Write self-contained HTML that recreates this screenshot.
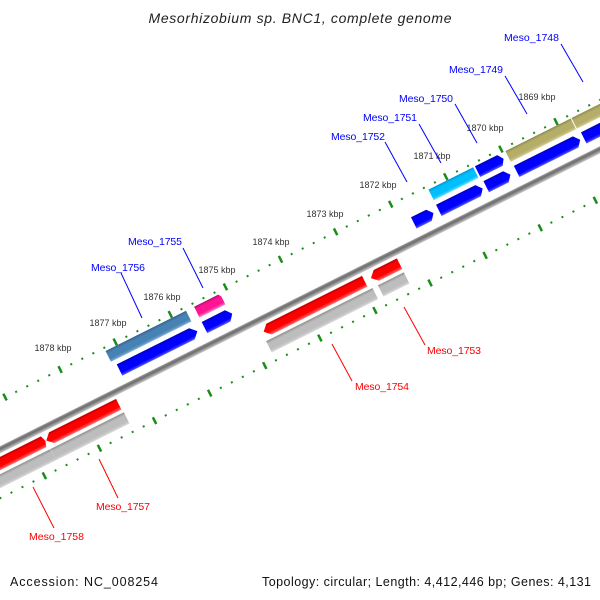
<!DOCTYPE html>
<html><head><meta charset="utf-8"><style>
html,body{margin:0;padding:0;background:#fff;width:600px;height:600px;overflow:hidden;}
svg{display:block;overflow:hidden;}
text{font-family:"Liberation Sans",sans-serif;}
</style></head><body>
<svg width="600" height="600" viewBox="0 0 600 600" xmlns="http://www.w3.org/2000/svg">
<defs>
<clipPath id="clipAll"><rect x="0" y="0" width="600" height="600"/></clipPath>
<linearGradient id="gB" x1="0" y1="0" x2="0" y2="1"><stop offset="0" stop-color="#0000c0"/><stop offset="0.25" stop-color="#0000ff"/><stop offset="0.75" stop-color="#0000ff"/><stop offset="1" stop-color="#5a5aff"/></linearGradient>
<linearGradient id="gR" x1="0" y1="0" x2="0" y2="1"><stop offset="0" stop-color="#c00000"/><stop offset="0.25" stop-color="#ff0000"/><stop offset="0.7" stop-color="#ff0000"/><stop offset="1" stop-color="#ff7070"/></linearGradient>
<linearGradient id="gG" x1="0" y1="0" x2="0" y2="1"><stop offset="0" stop-color="#909090"/><stop offset="0.25" stop-color="#bdbdbd"/><stop offset="0.75" stop-color="#bdbdbd"/><stop offset="1" stop-color="#d8d8d8"/></linearGradient>
<linearGradient id="gS" x1="0" y1="0" x2="0" y2="1"><stop offset="0" stop-color="#35648c"/><stop offset="0.25" stop-color="#4682b4"/><stop offset="0.75" stop-color="#4682b4"/><stop offset="1" stop-color="#80b0d8"/></linearGradient>
<linearGradient id="gC" x1="0" y1="0" x2="0" y2="1"><stop offset="0" stop-color="#0098cc"/><stop offset="0.25" stop-color="#00bfff"/><stop offset="0.75" stop-color="#00bfff"/><stop offset="1" stop-color="#70e0ff"/></linearGradient>
<linearGradient id="gP" x1="0" y1="0" x2="0" y2="1"><stop offset="0" stop-color="#b01070"/><stop offset="0.25" stop-color="#ff1493"/><stop offset="0.75" stop-color="#ff1493"/><stop offset="1" stop-color="#ff80c8"/></linearGradient>
<linearGradient id="gK" x1="0" y1="0" x2="0" y2="1"><stop offset="0" stop-color="#8f8a4c"/><stop offset="0.25" stop-color="#b5ae68"/><stop offset="0.75" stop-color="#b5ae68"/><stop offset="1" stop-color="#d4cf98"/></linearGradient>
<linearGradient id="gBB" x1="0" y1="0" x2="0" y2="1"><stop offset="0" stop-color="#a0a0a0"/><stop offset="0.35" stop-color="#6a6a6a"/><stop offset="0.6" stop-color="#8a8a8a"/><stop offset="1" stop-color="#d0d0d0"/></linearGradient>
<pattern id="dots" patternUnits="userSpaceOnUse" x="-6.5" y="0" width="12.32" height="200"><rect x="0" y="0" width="2" height="200" fill="#1a8c1a"/></pattern>
<pattern id="longt" patternUnits="userSpaceOnUse" x="-6.75" y="0" width="61.6" height="200"><rect x="0" y="0" width="2.5" height="200" fill="#1a8c1a"/></pattern>
</defs>

<g clip-path="url(#clipAll)">
<g transform="translate(305,296) rotate(-26.565)">
  <rect x="-450" y="-44.5" width="900" height="2" fill="url(#dots)"/>
  <rect x="-450" y="-47.5" width="900" height="7.5" fill="url(#longt)"/>
  <rect x="-450" y="43.5" width="900" height="2" fill="url(#dots)"/>
  <rect x="-450" y="40.5" width="900" height="7.5" fill="url(#longt)"/>

  <rect x="-450" y="-2" width="900" height="6.5" fill="url(#gBB)"/>

  <polygon points="-203,-40 -113,-40 -113,-28 -203,-28" fill="url(#gS)"/>
  <polygon points="-104,-40 -77,-40 -75,-37 -75,-28 -104,-28" fill="url(#gP)"/>
  <polygon points="158,-40 208,-40 208,-28 158,-28" fill="url(#gC)"/>
  <polygon points="210,-40 235,-40 239,-34 235,-28 210,-28" fill="url(#gB)"/>
  <polygon points="244,-40 317,-40 317,-28 244,-28" fill="url(#gK)"/>
  <polygon points="318,-40 450,-40 450,-28 318,-28" fill="url(#gK)"/>

  <polygon points="-199,-23 -118,-23 -112,-16.75 -118,-10.5 -199,-10.5" fill="url(#gB)"/>
  <polygon points="-104,-23 -78,-23 -73,-16.75 -78,-10.5 -104,-10.5" fill="url(#gB)"/>
  <polygon points="130,-23 147,-23 152,-16.75 147,-10.5 130,-10.5" fill="url(#gB)"/>
  <polygon points="158,-23 202,-23 207,-16.75 202,-10.5 158,-10.5" fill="url(#gB)"/>
  <polygon points="211,-23 233,-23 238,-16.75 233,-10.5 211,-10.5" fill="url(#gB)"/>
  <polygon points="245,-23 311,-23 316,-16.75 311,-10.5 245,-10.5" fill="url(#gB)"/>
  <polygon points="320,-23 450,-23 450,-10.5 320,-10.5" fill="url(#gB)"/>

  <polygon points="-450,7.5 -299,7.5 -297,13.5 -299,19.5 -450,19.5" fill="url(#gR)"/>
  <polygon points="-296,13.5 -290,7.5 -215,7.5 -215,19.5 -290,19.5" fill="url(#gR)"/>
  <polygon points="-53,13.5 -47,7.5 60,7.5 60,19.5 -47,19.5" fill="url(#gR)"/>
  <polygon points="67,13.5 73,7.5 99,7.5 99,19.5 73,19.5" fill="url(#gR)"/>

  <polygon points="-450,23 -214,23 -214,35.5 -450,35.5" fill="url(#gG)"/>
  <line x1="-296" y1="23" x2="-296" y2="35.5" stroke="#c8c8c8" stroke-width="0.8"/>
  <polygon points="-55,23 64,23 64,35.5 -55,35.5" fill="url(#gG)"/>
  <polygon points="70,23 99,23 99,35.5 70,35.5" fill="url(#gG)"/>
</g>
</g>

<g font-size="9" fill="#333" text-anchor="middle">
  <text x="537" y="100">1869 kbp</text>
  <text x="485" y="131">1870 kbp</text>
  <text x="432" y="159">1871 kbp</text>
  <text x="378" y="188">1872 kbp</text>
  <text x="325" y="217">1873 kbp</text>
  <text x="271" y="245">1874 kbp</text>
  <text x="217" y="273">1875 kbp</text>
  <text x="162" y="300">1876 kbp</text>
  <text x="108" y="326">1877 kbp</text>
  <text x="53" y="351">1878 kbp</text>
</g>

<g stroke="#0000ff" stroke-width="1">
  <line x1="561" y1="44" x2="583" y2="82"/>
  <line x1="505" y1="76" x2="527" y2="114"/>
  <line x1="455" y1="104" x2="477" y2="143"/>
  <line x1="419" y1="124" x2="441" y2="163"/>
  <line x1="385" y1="142" x2="407" y2="182"/>
  <line x1="183" y1="248" x2="203" y2="288"/>
  <line x1="121" y1="273" x2="142" y2="318"/>
</g>
<g stroke="#ff0000" stroke-width="1">
  <line x1="404" y1="307" x2="425" y2="345"/>
  <line x1="332" y1="344" x2="352" y2="381"/>
  <line x1="99" y1="459" x2="118" y2="498"/>
  <line x1="33" y1="487" x2="54" y2="528"/>
</g>

<g font-size="10.5" fill="#0000ff">
  <text x="504" y="41" textLength="55">Meso_1748</text>
  <text x="449" y="73" textLength="54">Meso_1749</text>
  <text x="399" y="102" textLength="54">Meso_1750</text>
  <text x="363" y="121" textLength="54">Meso_1751</text>
  <text x="331" y="140" textLength="54">Meso_1752</text>
  <text x="128" y="245" textLength="54">Meso_1755</text>
  <text x="91" y="271" textLength="54">Meso_1756</text>
</g>
<g font-size="10.5" fill="#ff0000">
  <text x="427" y="354" textLength="54">Meso_1753</text>
  <text x="355" y="390" textLength="54">Meso_1754</text>
  <text x="96" y="510" textLength="54">Meso_1757</text>
  <text x="29" y="540" textLength="55">Meso_1758</text>
</g>

<text x="300" y="23" font-size="14" font-style="italic" fill="#222" text-anchor="middle" textLength="303">Mesorhizobium sp. BNC1, complete genome</text>
<text x="10" y="586" font-size="12.5" fill="#111" textLength="148">Accession: NC_008254</text>
<text x="262" y="586" font-size="12.5" fill="#111" textLength="329">Topology: circular; Length: 4,412,446 bp; Genes: 4,131</text>
</svg>
</body></html>
